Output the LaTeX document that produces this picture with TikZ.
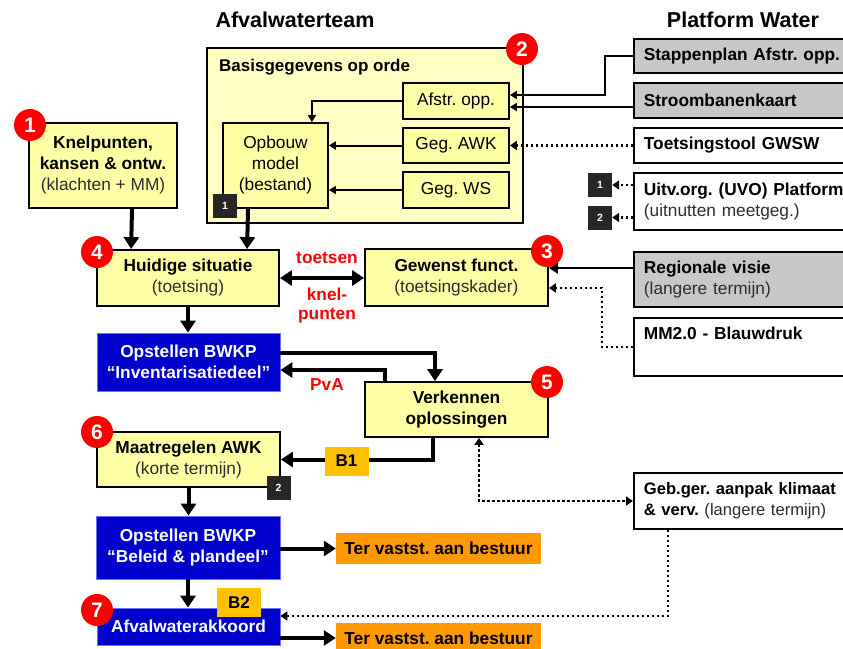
\documentclass[tikz,border=0pt]{standalone}
\usepackage{fontspec}
\setmainfont{Liberation Sans}
\usetikzlibrary{arrows.meta,calc}
\definecolor{yel}{RGB}{255,255,166}
\definecolor{lyel}{RGB}{255,255,196}
\definecolor{bblue}{RGB}{0,0,204}
\definecolor{bedge}{RGB}{110,110,255}
\definecolor{orng}{RGB}{255,153,0}
\definecolor{gld}{RGB}{255,192,0}
\definecolor{gry}{RGB}{200,200,200}
\definecolor{dsq}{RGB}{38,38,38}
\definecolor{rd}{RGB}{255,0,0}
\definecolor{tg}{RGB}{45,45,45}
\frenchspacing
\begin{document}
\begin{tikzpicture}[x=1pt,y=-1pt,
  base/.style={font=\fontsize{17.3}{21}\selectfont, align=center, inner sep=0pt},
  ybox/.style={base, draw, line width=1.8pt, fill=yel},
  bbox/.style={draw=bedge, line width=0.8pt, fill=bblue, text=white, align=center, inner sep=0pt,
               font=\bfseries\fontsize{17.3}{21}\selectfont},
  pbox/.style={draw, line width=1.8pt, align=left, text width=300pt, inner xsep=10pt, inner ysep=0pt,
               anchor=west, font=\fontsize{17.3}{21}\selectfont},
  badge/.style={circle, fill=rd, text=white, font=\bfseries\fontsize{21}{21}\selectfont,
                minimum size=32pt, inner sep=0pt},
  sqr/.style={fill=dsq, text=white, font=\bfseries\fontsize{10.5}{10.5}\selectfont,
              minimum size=24pt, inner sep=0pt},
  tagbox/.style={fill=gld, font=\bfseries\fontsize{17}{17}\selectfont,
                 minimum width=44pt, minimum height=29pt, inner sep=0pt},
  terbox/.style={fill=orng, font=\bfseries\fontsize{17.3}{17.3}\selectfont,
                 minimum width=205pt, minimum height=31pt, inner sep=0pt},
  bigarr/.style={-{Triangle[width=15pt,length=12pt]}, line width=4pt},
  bigdbl/.style={{Triangle[width=15pt,length=12pt]}-{Triangle[width=15pt,length=12pt]}, line width=4pt},
  smarr/.style={-{Triangle[width=8pt,length=7pt]}, line width=2pt},
  dotline/.style={line width=2.5pt, dash pattern=on 2.5pt off 2.5pt},
  dotarr/.style={dotline, -{Triangle[width=9pt,length=7pt]}},
  dotdbl/.style={dotline, {Triangle[width=9pt,length=7pt]}-{Triangle[width=9pt,length=7pt]}},
  redlab/.style={text=rd, font=\bfseries\fontsize{17.3}{17.3}\selectfont, inner sep=0pt},
  head/.style={font=\bfseries\fontsize{21.5}{21.5}\selectfont, inner sep=0pt}
]
\useasboundingbox (0,0) rectangle (843,648);
\clip (0,0) rectangle (843,648);

% headers
\node[head] (h1) at (295,20) {Afvalwaterteam};
\node[head] (h2) at (743,20) {Platform Water};

% big box
\node[draw, line width=2.2pt, fill=lyel, minimum width=316pt, minimum height=175pt, inner sep=0pt] (basis) at (365,135.5) {};
\node[base, font=\bfseries\fontsize{17}{21}\selectfont, anchor=west] (basist) at (219,67) {Basisgegevens op orde};

\node[ybox, minimum width=106pt, minimum height=36pt] (afstr) at (456,101) {Afstr. opp.};
\node[ybox, minimum width=106pt, minimum height=35pt] (awk) at (456,145.5) {Geg. AWK};
\node[ybox, minimum width=106pt, minimum height=36pt] (ws) at (456,190) {Geg. WS};
\node[ybox, minimum width=105pt, minimum height=85pt] (opbouw) at (275.5,165.5) {Opbouw\\model\\(bestand)};

% left column
\node[ybox, minimum width=148pt, minimum height=85pt] (knel) at (103,165.5)
  {\textbf{Knelpunten,}\\\textbf{kansen \& ontw.}\\\textcolor{tg}{(klachten + MM)}};
\node[ybox, minimum width=182pt, minimum height=56pt] (huid) at (188,278)
  {\textbf{Huidige situatie}\\\textcolor{tg}{(toetsing)}};
\node[ybox, minimum width=183pt, minimum height=57pt] (gew) at (456.5,277.5)
  {\textbf{Gewenst funct.}\\\textcolor{tg}{(toetsingskader)}};
\node[bbox, minimum width=183pt, minimum height=58pt] (bwkp1) at (188.5,362)
  {Opstellen BWKP\\“Inventarisatiedeel”};
\node[ybox, minimum width=183pt, minimum height=55pt] (verk) at (456.5,409.5)
  {\textbf{Verkennen}\\\textbf{oplossingen}};
\node[ybox, minimum width=183pt, minimum height=55pt] (maat) at (188.5,459.5)
  {\textbf{Maatregelen AWK}\\\textcolor{tg}{(korte termijn)}};
\node[bbox, minimum width=184pt, minimum height=63pt] (bwkp2) at (188,547.5)
  {Opstellen BWKP\\“Beleid \& plandeel”};
\node[bbox, minimum width=183pt, minimum height=37pt] (akk) at (188.5,626.5)
  {Afvalwaterakkoord};
\node[terbox] (ter1) at (438.5,548.5) {Ter vastst. aan bestuur};
\node[terbox, minimum height=30pt] (ter2) at (438.5,638) {Ter vastst. aan bestuur};

% platform boxes
\node[pbox, fill=gry, minimum height=34pt] (stap) at (633,56) {\textbf{Stappenplan Afstr. opp.}};
\node[pbox, fill=gry, minimum height=35pt] (stroom) at (633,100.5) {\textbf{Stroombanenkaart}};
\node[pbox, fill=white, minimum height=35pt] (toets) at (633,145.5) {\textbf{Toetsingstool GWSW}};
\node[pbox, fill=white, minimum height=57pt] (uitv) at (633,201.5)
  {\textbf{Uitv.org. (UVO) Platform}\\\textcolor{tg}{(uitnutten meetgeg.)}};
\node[pbox, fill=gry, minimum height=55pt] (reg) at (633,279.5)
  {\textbf{Regionale visie}\\\textcolor{tg}{(langere termijn)}};
\node[pbox, fill=white, minimum height=58pt] (mm) at (633,347)
  {\textbf{MM2.0 - Blauwdruk}\\\strut};
\node[pbox, fill=white, minimum height=56pt, font=\fontsize{16.6}{21}\selectfont] (geb) at (633,501)
  {\textbf{Geb.ger. aanpak klimaat}\\\textbf{\& verv.} \textcolor{tg}{(langere termijn)}};

% small squares
\node[sqr] (sq1a) at (225,206) {1};
\node[sqr] (sq2a) at (278.5,488) {2};
\node[sqr] (sq1b) at (600,185) {1};
\node[sqr] (sq2b) at (600,217.5) {2};

% connectors inside basis
\draw[smarr] (afstr.west) -| ([xshift=-17pt]opbouw.north east);
\draw[smarr] (awk.west) -- (awk.west -| opbouw.east);
\draw[smarr] (ws.west) -- (ws.west -| opbouw.east);
\coordinate (afA) at ([yshift=6pt]afstr.east);
\coordinate (afB) at ([yshift=-6pt]afstr.east);
\draw[smarr] (stap.west) -- ++(-28,0) |- (afA);
\draw[smarr] (stroom.west |- afB) -- (afB);
\draw[dotarr] (toets.west) -- (awk.east);
\draw[dotarr] (uitv.west |- sq1b.east) -- (sq1b.east);
\draw[dotarr] (uitv.west |- sq2b.east) -- (sq2b.east);

% main flow
\draw[bigarr] ([xshift=29pt]knel.south) -- ([xshift=35pt]huid.north west);
\draw[bigarr] ([xshift=-27.5pt]opbouw.south) -- ([xshift=151pt]huid.north west);
\draw[bigdbl] (huid.east) -- (huid.east -| gew.west);
\coordinate (g1) at ([yshift=9.5pt]gew.east);
\coordinate (g2) at ([yshift=-10.5pt]gew.east);
\draw[line width=2.4pt, -{Triangle[width=11pt,length=9pt]}] (reg.west |- g1) -- (g1);
\draw[dotarr] (mm.west) -- ++(-31,0) |- (g2);
\draw[bigarr] (huid.south) -- (huid.south |- bwkp1.north);
\draw[bigarr] ([yshift=9pt]bwkp1.east) -| ([xshift=-21.5pt]verk.north);
\draw[bigarr] ([xshift=-71.5pt]verk.north) |- ([yshift=-8pt]bwkp1.east);
\draw[bigarr] ([xshift=-23.5pt]verk.south) |- (maat.east);
\draw[dotdbl] ([xshift=22.5pt]verk.south) |- (geb.west);
\draw[bigarr] (maat.south) -- (maat.south |- bwkp2.north);
\draw[bigarr] (bwkp2.east |- ter1.west) -- (ter1.west);
\draw[bigarr] (bwkp2.south) -- (bwkp2.south |- akk.north);
\draw[bigarr] (akk.east |- ter2.west) -- (ter2.west);
\coordinate (ak1) at ([yshift=10.5pt]akk.east);
\draw[dotarr] ([xshift=35pt]geb.south west) |- (ak1);

% labels
\node[redlab] (lt) at (327,258) {toetsen};
\node[redlab] (lk) at (327,294) {knel-};
\node[redlab] (lp) at (327,316) {punten};
\node[redlab] (lpva) at (327,385) {PvA};
\node[tagbox] (tb1) at (346.5,461) {B1};
\node[tagbox] (tb2) at (239,602.5) {B2};

% badges
\node[badge] (n1) at (30,125) {1};
\node[badge] (n2) at (522,49) {2};
\node[badge] (n3) at (547,251) {3};
\node[badge] (n4) at (97,252) {4};
\node[badge] (n5) at (547,382) {5};
\node[badge] (n6) at (97,432) {6};
\node[badge] (n7) at (97,610) {7};
\end{tikzpicture}
\end{document}
